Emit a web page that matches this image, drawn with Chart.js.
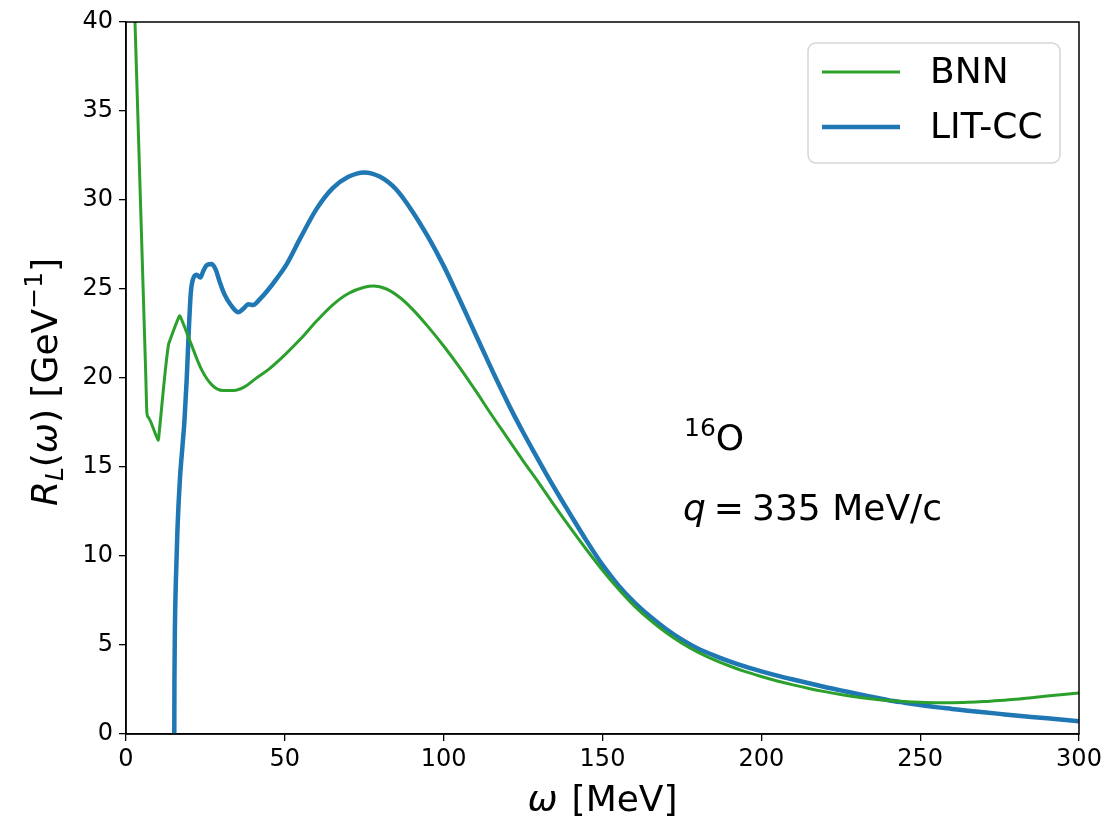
<!DOCTYPE html>
<html>
<head>
<meta charset="utf-8">
<script src="https://cdn.jsdelivr.net/npm/chart.js@4.4.0/dist/chart.umd.min.js"></script>
<style>
  html, body { margin: 0; padding: 0; background: #fff; }
  #wrap { width: 1110px; height: 822px; }
</style>
</head>
<body>
<div id="wrap"><canvas id="rlChart" width="1110" height="822"></canvas></div>
<script>
// BNN curve (omega in MeV, R_L in GeV^-1)
const bnnOmega = [0, 6.2, 6.6, 7.0, 10.0, 10.2, 10.4, 13.4, 13.6, 16.6, 16.9, 17.2, 20.3, 23.7,
  27.1, 30.5, 33.9, 37.3, 40.7,
  45, 50, 55, 60, 65, 70, 75, 78, 82, 86, 90, 95, 100, 105, 110, 115, 120, 125,
  130, 135, 140, 145, 150, 155, 160, 165, 170, 175, 180, 185, 190, 195, 200, 205,
  210, 215, 220, 225, 230, 235, 240, 245, 250, 255, 260, 265, 270, 275, 280, 285,
  290, 295, 300];
const bnnValues = [56.6, 20.3, 18.0, 17.8, 16.55, 16.5, 16.85, 21.9, 22.0, 23.4, 23.5, 23.4, 22.0, 20.5,
  19.6, 19.3, 19.3, 19.5, 19.95,
  20.5, 21.3, 22.2, 23.2, 24.1, 24.75, 25.1, 25.17, 25.0, 24.55, 23.9, 22.9, 21.8, 20.6, 19.3, 17.95, 16.65, 15.35,
  14.1, 12.8, 11.55, 10.35, 9.2, 8.15, 7.2, 6.4, 5.7, 5.1, 4.6, 4.18, 3.82, 3.5, 3.23, 2.98,
  2.76, 2.56, 2.38, 2.22, 2.08, 1.97, 1.88, 1.82, 1.78, 1.76, 1.76, 1.78, 1.82, 1.88, 1.95, 2.04,
  2.13, 2.22, 2.3];

// LIT-CC curve
const litOmega = [15.2, 15.25, 15.4, 15.7, 16.2, 17.0, 17.7, 18.4, 19.1, 19.8, 20.4, 21.0, 22.2,
  23.4, 24.3, 25.5, 27.0, 28.2, 29.5, 31.0, 33.0, 35.3, 37.0, 38.5, 40.0, 42.0, 44.5,
  47.5, 50.6, 55, 60, 65, 70, 75, 80, 85, 90, 95, 100, 104, 108, 112.5, 116, 120.9,
  125, 128.7, 132, 136.6, 140, 145, 150, 155, 160, 165, 170, 175, 180, 185, 190, 195,
  200, 205, 210, 215, 220, 225, 230, 235, 240, 245, 250, 255, 260, 265, 270, 275, 280,
  285, 290, 295, 300];
const litValues = [0, 3.0, 6.0, 8.6, 11.5, 14.4, 16.0, 17.6, 19.9, 22.8, 24.8, 25.5, 25.8,
  25.65, 26.0, 26.35, 26.4, 26.1, 25.4, 24.7, 24.1, 23.7, 23.9, 24.15, 24.1, 24.4, 24.9,
  25.6, 26.4, 27.9, 29.5, 30.65, 31.3, 31.55, 31.3, 30.6, 29.4, 27.95, 26.3, 24.8, 23.25, 21.5, 20.15, 18.35,
  16.95, 15.75, 14.7, 13.3, 12.3, 10.85, 9.5, 8.35, 7.4, 6.6, 5.9, 5.3, 4.8, 4.42, 4.08, 3.78,
  3.52, 3.28, 3.06, 2.85, 2.64, 2.45, 2.26, 2.08, 1.9, 1.76, 1.63, 1.51, 1.41, 1.31, 1.22, 1.13, 1.04,
  0.96, 0.88, 0.8, 0.72];

const seriesNames = ["BNN", "LIT-CC"];
const seriesColors = ["#2ca02c", "#1f77b4"];
const xTicks = [0, 50, 100, 150, 200, 250, 300];
const yTicks = [0, 5, 10, 15, 20, 25, 30, 35, 40];

const FONT = "'DejaVu Sans', sans-serif";
const ctx = document.getElementById("rlChart").getContext("2d");

function toPoints(xs, ys) {
  return xs.map((x, i) => ({ x: x, y: ys[i] }));
}

// draw a run of text pieces with different fonts / offsets
function drawPieces(c, pieces, x, y) {
  let cx = x;
  pieces.forEach(p => {
    c.font = p.font;
    c.fillText(p.t, cx, y + (p.dy || 0));
    cx += c.measureText(p.t).width + (p.gap || 0);
  });
}
function piecesWidth(c, pieces) {
  let w = 0;
  pieces.forEach(p => {
    c.font = p.font;
    w += c.measureText(p.t).width + (p.gap || 0);
  });
  return w;
}

const decorations = {
  id: "decorations",
  afterDraw(chart) {
    const c = chart.ctx;
    const a = chart.chartArea;
    c.save();

    // frame
    c.strokeStyle = "#000";
    c.lineWidth = 1.5;
    c.strokeRect(a.left, a.top, a.right - a.left, a.bottom - a.top);

    c.fillStyle = "#000";
    c.textBaseline = "alphabetic";

    // x axis title
    const xt = [
      { t: "ω", font: "italic 36px " + FONT, gap: 14 },
      { t: "[MeV]", font: "36px " + FONT }
    ];
    drawPieces(c, xt, (a.left + a.right) / 2 - piecesWidth(c, xt) / 2, 811);

    // y axis title (rotated)
    const yt = [
      { t: "R", font: "italic 36px " + FONT },
      { t: "L", font: "italic 25px " + FONT, dy: 6 },
      { t: "(", font: "36px " + FONT },
      { t: "ω", font: "italic 36px " + FONT },
      { t: ") [GeV", font: "36px " + FONT },
      { t: "−1", font: "25px " + FONT, dy: -15 },
      { t: "]", font: "36px " + FONT }
    ];
    c.save();
    c.translate(57, (a.top + a.bottom) / 2 + 4);
    c.rotate(-Math.PI / 2);
    drawPieces(c, yt, -piecesWidth(c, yt) / 2, 0);
    c.restore();

    // annotation
    drawPieces(c, [
      { t: "16", font: "25px " + FONT, dy: -14 },
      { t: "O", font: "36px " + FONT }
    ], 684, 450);
    drawPieces(c, [
      { t: "q", font: "italic 36px " + FONT, gap: 8 },
      { t: "=", font: "36px " + FONT, gap: 8 },
      { t: "335 MeV/c", font: "36px " + FONT }
    ], 683, 520);

    // legend
    const lx = 808, ly = 43, lw = 252, lh = 120;
    c.beginPath();
    c.roundRect(lx, ly, lw, lh, 8);
    c.fillStyle = "rgba(255,255,255,0.8)";
    c.fill();
    c.strokeStyle = "#d6d6d6";
    c.lineWidth = 1.5;
    c.stroke();
    const rows = [72, 127];
    const widths = [3, 4.5];
    seriesNames.forEach((name, i) => {
      c.beginPath();
      c.strokeStyle = seriesColors[i];
      c.lineWidth = widths[i];
      c.moveTo(822, rows[i]);
      c.lineTo(900, rows[i]);
      c.stroke();
      c.fillStyle = "#000";
      c.font = "36px " + FONT;
      c.textBaseline = "middle";
      c.fillText(name, 930, rows[i] + 2);
    });

    c.restore();
  }
};

new Chart(ctx, {
  type: "line",
  data: {
    datasets: [
      {
        label: seriesNames[0],
        data: toPoints(bnnOmega, bnnValues),
        borderColor: seriesColors[0],
        borderWidth: 3,
        pointRadius: 0,
        cubicInterpolationMode: "monotone",
        fill: false
      },
      {
        label: seriesNames[1],
        data: toPoints(litOmega, litValues),
        borderColor: seriesColors[1],
        borderWidth: 4.5,
        pointRadius: 0,
        cubicInterpolationMode: "monotone",
        fill: false
      }
    ]
  },
  options: {
    responsive: false,
    animation: false,
    devicePixelRatio: 1,
    layout: { padding: { left: 0, top: 22, right: 31, bottom: 0 } },
    plugins: {
      legend: { display: false },
      tooltip: { enabled: false }
    },
    scales: {
      x: {
        type: "linear",
        min: 0,
        max: 300,
        afterFit: s => { s.height = 88; },
        afterBuildTicks: s => { s.ticks = xTicks.map(v => ({ value: v })); },
        grid: { drawOnChartArea: false, drawTicks: true, tickLength: 7, color: "#000", lineWidth: 1.3 },
        border: { display: true, color: "#000", width: 1.5 },
        ticks: { color: "#000", font: { family: FONT, size: 24 }, padding: 4, maxRotation: 0 }
      },
      y: {
        type: "linear",
        min: 0,
        max: 40,
        afterFit: s => { s.width = 126; },
        afterBuildTicks: s => { s.ticks = yTicks.map(v => ({ value: v })); },
        grid: { drawOnChartArea: false, drawTicks: true, tickLength: 7, color: "#000", lineWidth: 1.3 },
        border: { display: true, color: "#000", width: 1.5 },
        ticks: { color: "#000", font: { family: FONT, size: 24 }, padding: 6 }
      }
    }
  },
  plugins: [decorations]
});
</script>
</body>
</html>
